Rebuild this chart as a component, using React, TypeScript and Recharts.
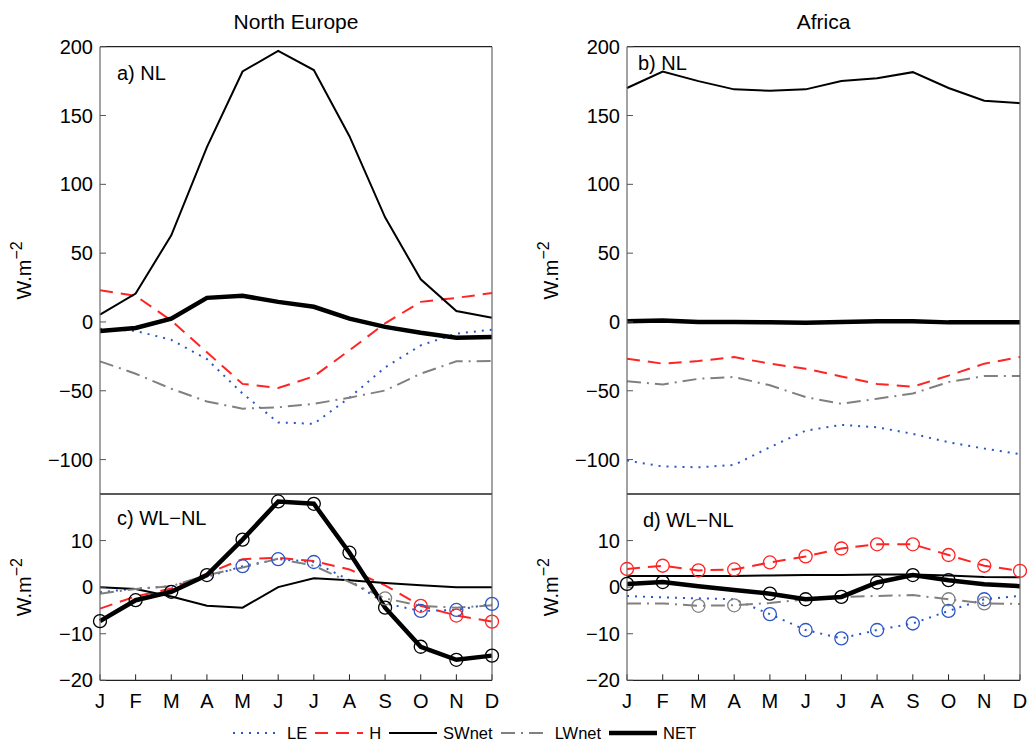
import React from 'react';
import { LineChart, Line, XAxis, YAxis, Legend } from 'recharts';

// Month letters on the shared x axis
const months = ['J', 'F', 'M', 'A', 'M', 'J', 'J', 'A', 'S', 'O', 'N', 'D'];
const monthIdx = months.map((_, i) => i);

// Tick values
const nlTicks = [-100, -50, 0, 50, 100, 150, 200];
const diffTicks = [-20, -10, 0, 10];

// a) North Europe, NL (W m-2)
const neLE = [-5, -6.5, -13, -27, -52, -73, -74, -55, -33, -17, -8.5, -5.6];
const neH = [23, 19, 1, -22, -45, -48, -39.5, -20.6, -1, 14.6, 17.5, 21];
const neSW = [5.3, 20.6, 63, 127, 182, 197, 183, 135, 76, 31, 8, 3];
const neLW = [-28.6, -37.6, -48.5, -57.8, -63, -62, -59.5, -55, -49.8, -37.6, -28.6, -28.4];
const neNET = [-6.5, -4.4, 2.4, 17.5, 19, 14.6, 11, 2.4, -3.6, -7.8, -11.4, -11];

// b) Africa, NL
const afLE = [-100.7, -105, -105.6, -103.9, -91, -79, -74.8, -76.5, -81.3, -87.4, -92, -96];
const afH = [-26.7, -30.3, -28.4, -25.5, -30.3, -34, -39.6, -45, -47, -39, -30.3, -25.5];
const afSW = [170, 182, 175, 169, 168, 169, 175, 177, 181.5, 170, 160.7, 159];
const afLW = [-43, -45.4, -41.3, -40, -46, -54.6, -59.5, -55.8, -52, -43.7, -39.3, -39.3];
const afNET = [0.5, 1, 0, 0, -0.3, -0.5, 0, 0.5, 0.5, -0.3, -0.3, -0.3];

// c) North Europe, WL-NL
const neDLE = [-1.1, -0.3, 0.2, 2.2, 4.5, 6, 5.4, 1.5, -3.5, -5.1, -4.9, -3.6];
const neDH = [-4.6, -2, -0.3, 2.9, 6, 6.3, 5.6, 3.8, 0.4, -4, -6.1, -7.4];
const neDSW = [0, -0.4, -2, -4, -4.4, 0, 1.9, 1.5, 0.9, 0.4, 0, 0];
const neDLW = [-1.4, -0.4, 0.2, 2.6, 4.2, 6.1, 4.6, 1.1, -2.4, -4, -4.4, -3.9];
const neDNET = [-7.3, -2.8, -1, 2.6, 10.2, 18.4, 17.9, 7.4, -4.4, -12.8, -15.6, -14.7];

// d) Africa, WL-NL
const afDLE = [-1.9, -2.2, -2.4, -2.6, -5.8, -9.2, -11, -9.2, -7.8, -5.1, -2.6, -1.9];
const afDH = [3.9, 4.6, 3.6, 3.8, 5.3, 6.6, 8.3, 9.2, 9.2, 6.9, 4.6, 3.5];
const afDSW = [2.4, 2.4, 2.4, 2.4, 2.5, 2.6, 2.6, 2.7, 2.7, 2.5, 2.2, 2.1];
const afDLW = [-3.5, -3.5, -4, -3.9, -3.4, -2.6, -2.1, -1.9, -1.7, -2.6, -3.5, -3.6];
const afDNET = [0.7, 1.1, 0.2, -0.6, -1.4, -2.6, -2.1, 1, 2.6, 1.5, 0.6, 0.2];

// Months where the WL-NL difference is significant (circled)
const neSigLE = [0, 0, 0, 0, 1, 1, 1, 0, 0, 1, 1, 1];
const neSigH = [0, 0, 0, 0, 0, 0, 0, 0, 0, 1, 1, 1];
const neSigLW = [0, 0, 0, 0, 0, 0, 0, 0, 1, 0, 0, 0];
const neSigNET = [1, 1, 1, 1, 1, 1, 1, 1, 1, 1, 1, 1];
const afSigLE = [0, 0, 0, 0, 1, 1, 1, 1, 1, 1, 1, 0];
const afSigH = [1, 1, 1, 1, 1, 1, 1, 1, 1, 1, 1, 1];
const afSigLW = [0, 0, 1, 1, 0, 0, 0, 0, 0, 1, 1, 0];
const afSigNET = [1, 1, 0, 0, 1, 1, 1, 1, 1, 1, 0, 0];

const SERIES = [
  { key: 'LE', color: '#2b56c6', width: 2, dash: '2 6' },
  { key: 'H', color: '#ff2424', width: 2, dash: '13 8' },
  { key: 'SWnet', color: '#000000', width: 2, dash: undefined },
  { key: 'LWnet', color: '#808080', width: 2, dash: '14 6 2 6' },
  { key: 'NET', color: '#000000', width: 4.5, dash: undefined },
];

const buildRows = (le: number[], h: number[], sw: number[], lw: number[], net: number[]) =>
  monthIdx.map((i) => ({ i, LE: le[i], H: h[i], SWnet: sw[i], LWnet: lw[i], NET: net[i] }));

const W = 1027;
const HGT = 745;
const FONT = '"Liberation Sans", Arial, Helvetica, sans-serif';

const fmtY = (v: number) => (v < 0 ? `\u2212${-v}` : `${v}`);

const sigDot = (flags: number[] | undefined, color: string) => (props: any) => {
  const { cx, cy, index } = props;
  if (!flags || !flags[index] || cx == null || cy == null) return <g key={`d${index}`} />;
  return (
    <circle key={`d${index}`} cx={cx} cy={cy} r={6.5} fill="none" stroke={color} strokeWidth={1.3} />
  );
};

function LegendBox() {
  return (
    <div style={{ display: 'flex', alignItems: 'center', height: 20, paddingLeft: 233, fontFamily: FONT }}>
      {SERIES.map((s) => (
        <div key={s.key} style={{ display: 'flex', alignItems: 'center', marginRight: 8 }}>
          <svg width={48} height={12}>
            <line x1={0} y1={6} x2={48} y2={6} stroke={s.color} strokeWidth={s.width} strokeDasharray={s.dash} />
          </svg>
          <span style={{ marginLeft: 6, fontSize: 16.5, lineHeight: '20px', color: '#000' }}>{s.key}</span>
        </div>
      ))}
    </div>
  );
}

type PanelProps = {
  rows: any[];
  x0: number;
  x1: number;
  y0: number;
  y1: number;
  domain: [number, number];
  ticks: number[];
  months?: boolean;
  title?: string;
  tag: string;
  tagDx: number;
  tagDy: number;
  sig?: Record<string, number[]>;
  legend?: boolean;
  topTicks?: boolean;
};

function Panel(p: PanelProps) {
  const bottomH = p.months ? 40 : 1;
  const margin = {
    left: p.x0 - 60,
    right: W - p.x1 - 1,
    top: p.y0 - 1,
    bottom: HGT - p.y1 - bottomH,
  };
  return (
    <div style={{ position: 'absolute', left: 0, top: 0 }}>
      <LineChart width={W} height={HGT} data={p.rows} margin={margin}>
        <XAxis
          xAxisId="b"
          dataKey="i"
          type="number"
          domain={[0, 11]}
          ticks={monthIdx}
          interval={0}
          height={bottomH}
          tickFormatter={(v: number) => months[v]}
          tick={p.months ? { fill: '#000', fontSize: 20 } : false}
          tickSize={-6}
          tickMargin={19}
          stroke="#222"
          axisLine={{ stroke: '#222', strokeWidth: 1.2 }}
        />
        <XAxis
          xAxisId="t"
          orientation="top"
          dataKey="i"
          type="number"
          domain={[0, 11]}
          ticks={monthIdx}
          interval={0}
          height={1}
          tick={false}
          tickLine={p.topTicks !== false}
          tickSize={-6}
          stroke="#222"
          axisLine={{ stroke: '#222', strokeWidth: 1.2 }}
          label={{
            content: (lp: any) => {
              const vb = lp.viewBox || {};
              return (
                <g fontFamily={FONT}>
                  {p.title && (
                    <text x={vb.x + vb.width / 2} y={vb.y - 16.5} textAnchor="middle" fontSize={21} fill="#000">
                      {p.title}
                    </text>
                  )}
                  <text x={vb.x + p.tagDx} y={vb.y + 1 + p.tagDy} fontSize={20} fill="#000">
                    {p.tag}
                  </text>
                </g>
              );
            },
          }}
        />
        <YAxis
          yAxisId="l"
          domain={p.domain}
          ticks={p.ticks}
          interval={0}
          width={60}
          tickFormatter={fmtY}
          tick={{ fill: '#000', fontSize: 20 }}
          tickSize={-6}
          tickMargin={13}
          stroke="#555"
          axisLine={{ stroke: '#666', strokeWidth: 1.2 }}
          allowDataOverflow
          label={{
            content: (lp: any) => {
              const vb = lp.viewBox || {};
              const cx = vb.x - 9;
              const cy = vb.y + vb.height / 2;
              return (
                <text
                  x={cx}
                  y={cy}
                  transform={`rotate(-90, ${cx}, ${cy})`}
                  textAnchor="middle"
                  fontSize={20}
                  fontFamily={FONT}
                  fill="#000"
                >
                  W.m
                  <tspan dy={-9} fontSize={16}>
                    {'\u22122'}
                  </tspan>
                </text>
              );
            },
          }}
        />
        <YAxis
          yAxisId="r"
          orientation="right"
          domain={p.domain}
          ticks={p.ticks}
          interval={0}
          width={1}
          tick={false}
          tickSize={-6}
          stroke="#555"
          axisLine={{ stroke: '#666', strokeWidth: 1.2 }}
          allowDataOverflow
        />
        {SERIES.map((s) => (
          <Line
            key={s.key}
            xAxisId="b"
            yAxisId="l"
            dataKey={s.key}
            name={s.key}
            type="linear"
            stroke={s.color}
            strokeWidth={s.width}
            strokeDasharray={s.dash}
            dot={sigDot(p.sig ? p.sig[s.key] : undefined, s.color)}
            activeDot={false}
            isAnimationActive={false}
          />
        ))}
        {p.legend && (
          <Legend
            layout="horizontal"
            verticalAlign="middle"
            align="center"
            content={() => <LegendBox />}
            wrapperStyle={{ position: 'absolute', left: 0, top: 723, width: W, height: 20 }}
          />
        )}
      </LineChart>
    </div>
  );
}

const L0 = 100;
const L1 = 492;
const R0 = 627;
const R1 = 1020;
const T0 = 46.7;
const MID = 494;
const B1 = 680.3;

export default function App() {
  return (
    <div
      style={{
        position: 'absolute',
        left: 0,
        top: 0,
        width: W,
        height: HGT,
        background: '#fff',
        fontFamily: FONT,
      }}
    >
      <Panel
        rows={buildRows(neLE, neH, neSW, neLW, neNET)}
        x0={L0} x1={L1} y0={T0} y1={MID}
        domain={[-125, 200]} ticks={nlTicks}
        title="North Europe" tag="a) NL" tagDx={17} tagDy={33.5}
      />
      <Panel
        rows={buildRows(afLE, afH, afSW, afLW, afNET)}
        x0={R0} x1={R1} y0={T0} y1={MID}
        domain={[-125, 200]} ticks={nlTicks}
        title="Africa" tag="b) NL" tagDx={11} tagDy={23.5}
      />
      <Panel
        rows={buildRows(neDLE, neDH, neDSW, neDLW, neDNET)}
        x0={L0} x1={L1} y0={MID} y1={B1}
        domain={[-20, 20]} ticks={diffTicks} months topTicks={false}
        tag={'c) WL\u2212NL'} tagDx={17} tagDy={31}
        sig={{ LE: neSigLE, H: neSigH, LWnet: neSigLW, NET: neSigNET }}
        legend
      />
      <Panel
        rows={buildRows(afDLE, afDH, afDSW, afDLW, afDNET)}
        x0={R0} x1={R1} y0={MID} y1={B1}
        domain={[-20, 20]} ticks={diffTicks} months topTicks={false}
        tag={'d) WL\u2212NL'} tagDx={16} tagDy={33}
        sig={{ LE: afSigLE, H: afSigH, LWnet: afSigLW, NET: afSigNET }}
      />
    </div>
  );
}
